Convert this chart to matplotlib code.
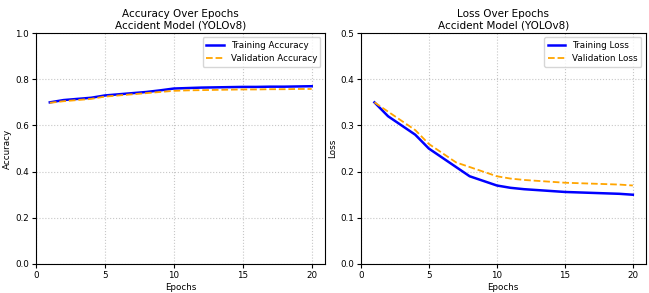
import numpy as np
import matplotlib
matplotlib.use("Agg")
import matplotlib.pyplot as plt

# Données
epochs = np.arange(1, 21)
train_acc = [0.700, 0.710, 0.715, 0.720, 0.730, 0.735, 0.740, 0.745, 0.752, 0.760,
             0.762, 0.764, 0.765, 0.766, 0.767, 0.767, 0.768, 0.768, 0.769, 0.770]
val_acc = [0.698, 0.705, 0.710, 0.715, 0.725, 0.730, 0.735, 0.740, 0.745, 0.750,
           0.752, 0.753, 0.754, 0.755, 0.756, 0.756, 0.757, 0.757, 0.758, 0.758]
train_loss = [0.350, 0.320, 0.300, 0.280, 0.250, 0.230, 0.210, 0.190, 0.180, 0.170,
              0.165, 0.162, 0.160, 0.158, 0.156, 0.155, 0.154, 0.153, 0.152, 0.150]
val_loss = [0.350, 0.330, 0.310, 0.290, 0.260, 0.240, 0.220, 0.210, 0.200, 0.190,
            0.185, 0.182, 0.180, 0.178, 0.176, 0.175, 0.174, 0.173, 0.172, 0.170]

plt.rcParams['font.size'] = 6.3
fig = plt.figure(figsize=(6.49, 2.93), dpi=100)

ax1 = fig.add_axes([0.0555, 0.099, 0.445, 0.788])
ax1.plot(epochs, train_acc, color='blue', lw=1.8, label='Training Accuracy')
ax1.plot(epochs, val_acc, color='orange', lw=1.3, ls='--', label='Validation Accuracy')
ax1.set_title("Accuracy Over Epochs\nAccident Model (YOLOv8)", fontsize=7.5, pad=3)
ax1.set_xlabel("Epochs", labelpad=2)
ax1.set_ylabel("Accuracy", labelpad=2)
ax1.set_ylim(0, 1.0)
ax1.set_xticks([0, 5, 10, 15, 20])
ax1.legend(loc='upper right', fontsize=6.3)
ax1.grid(True, ls=':', alpha=0.7)

ax2 = fig.add_axes([0.556, 0.099, 0.439, 0.788])
ax2.plot(epochs, train_loss, color='blue', lw=1.8, label='Training Loss')
ax2.plot(epochs, val_loss, color='orange', lw=1.3, ls='--', label='Validation Loss')
ax2.set_title("Loss Over Epochs\nAccident Model (YOLOv8)", fontsize=7.5, pad=3)
ax2.set_xlabel("Epochs", labelpad=2)
ax2.set_ylabel("Loss", labelpad=2)
ax2.set_ylim(0, 0.5)
ax2.set_xticks([0, 5, 10, 15, 20])
ax2.legend(loc='upper right', fontsize=6.3)
ax2.grid(True, ls=':', alpha=0.7)

for ax in (ax1, ax2):
    ax.tick_params(length=3, pad=2)

plt.savefig('out.png', dpi=100)
